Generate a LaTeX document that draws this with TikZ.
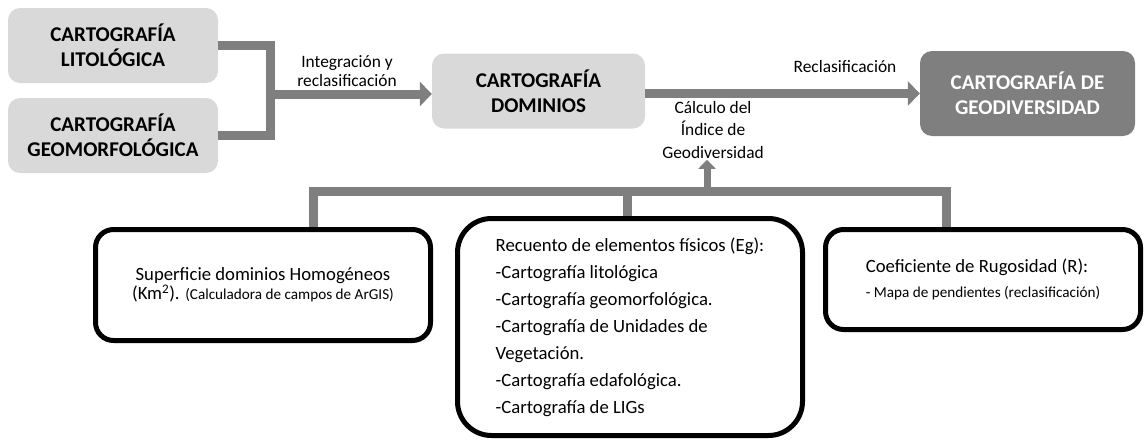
\documentclass[tikz,border=0pt]{standalone}
\usepackage{fontspec}
\setmainfont{Carlito}
\usetikzlibrary{arrows.meta}

\definecolor{boxgray}{HTML}{D9D9D9}
\definecolor{geogray}{HTML}{7F7F7F}

\tikzset{
	mapbox/.style={rectangle, rounded corners=12pt, fill=boxgray, inner sep=0pt, align=center, font=\bfseries\fontsize{21}{25}\selectfont},
	resultbox/.style={mapbox, fill=geogray, text=white},
	infobox/.style={rectangle, draw=black, line width=5pt, inner sep=0pt},
	note/.style={align=center, inner sep=1pt, font=\fontsize{17.4}{19}\selectfont},
	bar/.style={draw=geogray, line width=9pt},
	flow/.style={bar, -{Triangle[width=24pt,length=12pt]}},
	upflow/.style={draw=geogray, line width=7pt, -{Triangle[width=17pt,length=9pt]}}
}
\newcommand{\smalltxt}{\fontsize{15.2}{17}\selectfont}

\begin{document}
\begin{tikzpicture}[x=1pt,y=-1pt]
	\useasboundingbox (0,0) rectangle (1145,442);
	\node[mapbox, minimum width=210pt, minimum height=75pt] (lito) at (113,45.5) {CARTOGRAFÍA\\LITOLÓGICA};
	\node[mapbox, minimum width=210pt, minimum height=75pt] (geomorf) at (113,135.5) {CARTOGRAFÍA\\GEOMORFOLÓGICA};
	\node[mapbox, minimum width=213pt, minimum height=75pt] (dom) at (538.5,91) {CARTOGRAFÍA\\DOMINIOS};
	\node[resultbox, minimum width=215pt, minimum height=85pt] (geodiv) at (1027.5,93.5) {CARTOGRAFÍA DE\\GEODIVERSIDAD};

	\node[note] (integ) at (347,71) {Integración y\\reclasificación};
	\node[note] (reclas) at (845,67) {Reclasificación};
	\node[note, font=\fontsize{17.4}{22.5}\selectfont] (calc) at (713,130) {Cálculo del\\Índice de\\Geodiversidad};

	\node[infobox, rounded corners=18pt, minimum width=335pt, minimum height=111pt, align=center, font=\fontsize{18.7}{19}\selectfont] (sup) at (263,285)
		{Superficie dominios Homogéneos\\(Km\textsuperscript{2}). {\smalltxt(Calculadora de campos de ArGIS)}};
	\node[infobox, rounded corners=34pt, minimum width=345pt, minimum height=217pt, align=left, font=\fontsize{18.7}{27}\selectfont] (recu) at (630,327)
		{Recuento de elementos físicos (Eg):\\-Cartografía litológica\\-Cartografía geomorfológica.\\-Cartografía de Unidades de\\Vegetación.\\-Cartografía edafológica.\\-Cartografía de LIGs};
	\node[infobox, rounded corners=18pt, minimum width=315pt, minimum height=100pt, align=left, font=\fontsize{18.7}{25}\selectfont] (coef) at (983,279.5)
		{Coeficiente de Rugosidad (R):\\{\smalltxt - Mapa de pendientes (reclasificación)}};

	% top flow
	\coordinate (join) at (270,94);
	\draw[bar] (lito.east) -| (join) |- (geomorf.east);
	\draw[flow] (join) -- (dom.west |- join);
	\draw[flow] (dom.east |- geodiv.west) -- (geodiv.west);

	% lower bracket
	\coordinate (bleft) at (313,191);
	\coordinate (bmid) at (627,191);
	\coordinate (bright) at (946,191);
	\coordinate (hub) at (707,191);
	\draw[bar] (bleft |- sup.north) -- (bleft) -- (bright) -- (bright |- coef.north);
	\draw[bar] (bmid) -- (bmid |- recu.north);
	\draw[upflow] (hub) -- (hub |- calc.south);
\end{tikzpicture}
\end{document}
